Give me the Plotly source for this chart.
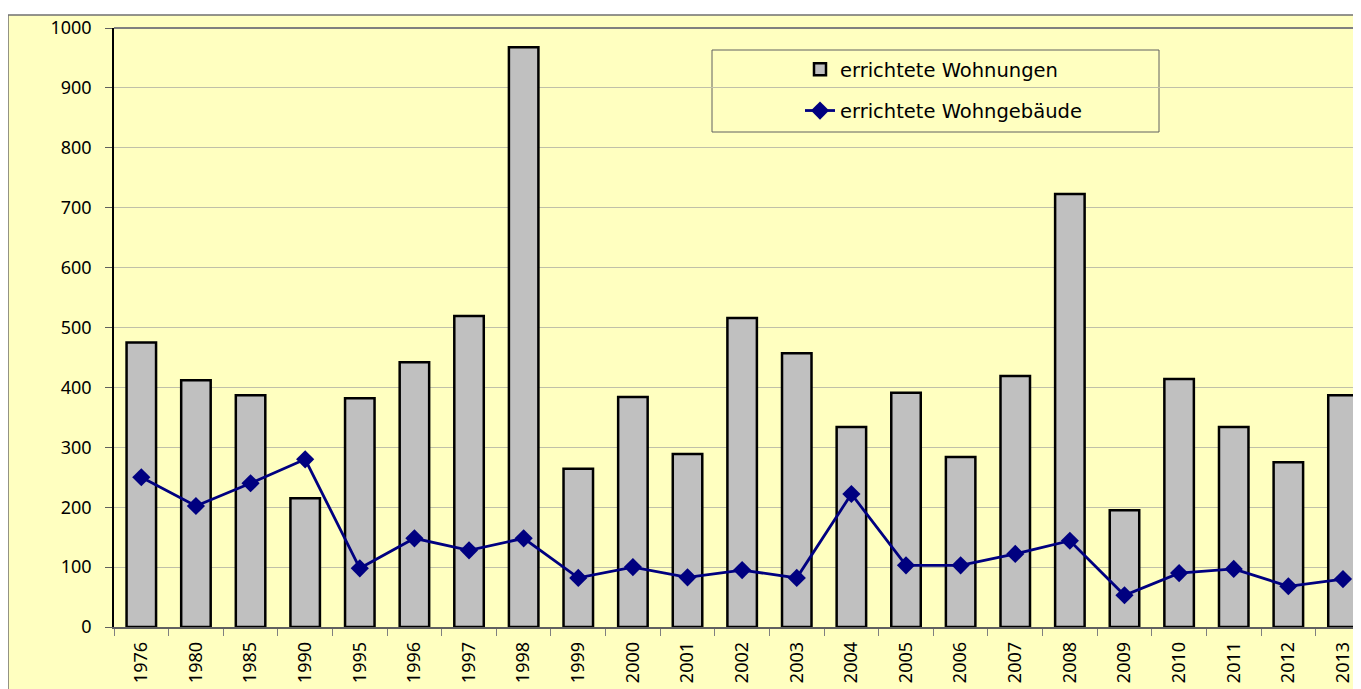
import plotly.graph_objects as go

years = ["1976", "1980", "1985", "1990", "1995", "1996", "1997", "1998", "1999", "2000",
         "2001", "2002", "2003", "2004", "2005", "2006", "2007", "2008", "2009", "2010",
         "2011", "2012", "2013"]
wohnungen = [475, 412, 387, 215, 382, 442, 519, 968, 264, 384,
             289, 516, 457, 334, 391, 284, 419, 723, 195, 414,
             334, 275, 387]
wohngebaeude = [250, 202, 240, 280, 98, 148, 128, 148, 82, 100,
                83, 95, 82, 222, 103, 103, 122, 144, 53, 90,
                97, 68, 80]
y_ticks = [0, 100, 200, 300, 400, 500, 600, 700, 800, 900, 1000]

W, H = 1353, 681
L, T, B = 106, 20, 62
pw, ph = W - L, H - T - B

def px_x(p):
    return (p - L) / pw

def px_y(p):
    return 1 - (p - T) / ph

fig = go.Figure()
fig.add_trace(go.Bar(
    x=years, y=wohnungen, name="errichtete Wohnungen",
    marker=dict(color="#C0C0C0", line=dict(color="black", width=2.5)),
    width=0.54, legendgroup="a",
))
fig.add_trace(go.Scatter(
    x=years, y=wohngebaeude, name="errichtete Wohngebäude", mode="lines+markers",
    line=dict(color="#000080", width=2.8),
    marker=dict(symbol="diamond", size=14, color="#000080"),
    legendgroup="b",
))

tick_font = dict(family="Noto Sans", size=18, color="black")

fig.update_layout(
    width=W, height=H,
    margin=dict(l=L, r=0, t=T, b=B),
    paper_bgcolor="white",
    plot_bgcolor="#FFFFC0",
    font=dict(family="DejaVu Sans", size=16, color="black"),
    showlegend=True,
    legend=dict(
        x=px_x(792), y=px_y(42), xanchor="left", yanchor="top",
        bgcolor="rgba(0,0,0,0)", borderwidth=0,
        font=dict(size=19.5, family="DejaVu Sans"),
        traceorder="grouped", tracegroupgap=13,
    ),
    bargap=0.46,
    xaxis=dict(
        type="category", range=[-0.5, 22.33],
        tickson="boundaries", ticks="outside", ticklen=7, tickcolor="#808080",
        tickangle=-90, showgrid=False, ticklabelstandoff=6,
        showline=True, linecolor="#606060", linewidth=1.5,
        tickfont=tick_font,
    ),
    yaxis=dict(
        range=[0, 1000], tickvals=y_ticks, ticks="outside", ticklen=7, tickcolor="#606060",
        showgrid=True, gridcolor="#C0C0A8", gridwidth=1, ticklabelstandoff=10,
        showline=True, linecolor="black", linewidth=1.5,
        zeroline=False, tickfont=tick_font,
    ),
    shapes=[
        dict(type="rect", xref="paper", yref="paper",
             x0=px_x(0), x1=px_x(W + 20), y0=px_y(H + 20), y1=px_y(7),
             fillcolor="#FFFFC0", line=dict(color="#707070", width=1.5), layer="below"),
        dict(type="line", xref="paper", yref="paper",
             x0=0, x1=1, y0=1, y1=1, line=dict(color="#808080", width=2)),
        dict(type="rect", xref="paper", yref="paper",
             x0=px_x(704), x1=px_x(1151), y0=px_y(124), y1=px_y(42),
             fillcolor="#FFFFC0", line=dict(color="#606060", width=1), layer="below"),
    ],
)

fig.write_html("out.html")
